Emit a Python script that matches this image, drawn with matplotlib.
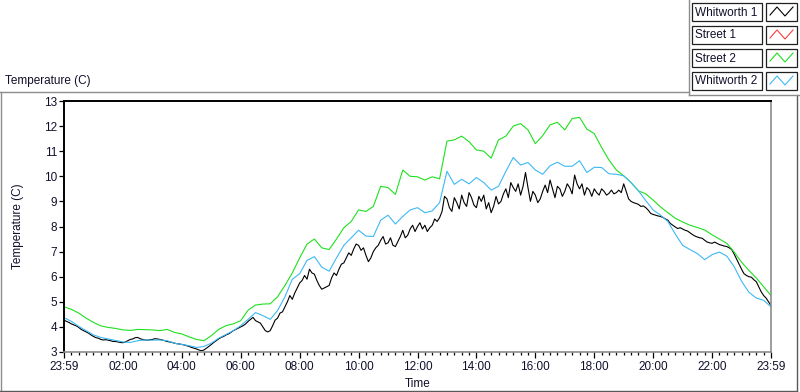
"""Whitworth / Street temperature log, one day from 23:59 to 23:59 (LabVIEW-style chart)."""

import matplotlib

matplotlib.use("Agg")
import matplotlib.pyplot as plt  # noqa: E402
import numpy as np  # noqa: E402
from matplotlib.lines import Line2D  # noqa: E402
from matplotlib.patches import Rectangle  # noqa: E402
from matplotlib.ticker import FixedLocator, MultipleLocator  # noqa: E402

W, H = 800, 392

INK = "#10102a"
FRAME = "#8c8c8c"
FRAME_DARK = "#5a5a5a"
BLACK = "#000000"
RED = "#ff3b3b"
GREEN = "#1fe01f"
CYAN = "#3cb9f5"

# x axis: hours after 23:59
TICK_HOURS = [0, 2, 4, 6, 8, 10, 12, 14, 16, 18, 20, 22, 24]
TICK_LABELS = ["23:59", "02:00", "04:00", "06:00", "08:00", "10:00", "12:00",
               "14:00", "16:00", "18:00", "20:00", "22:00", "23:59"]
Y_TICKS = [3, 4, 5, 6, 7, 8, 9, 10, 11, 12, 13]

# Whitworth 1, one sample every 5 minutes (one row = one hour)
WHITWORTH1_STEP_MIN = 5
WHITWORTH1 = [
    4.27, 4.22, 4.18, 4.12, 4.08, 4.04, 3.98, 3.90, 3.85, 3.80, 3.75, 3.68,
    3.62, 3.57, 3.55, 3.50, 3.48, 3.49, 3.47, 3.45, 3.42, 3.42, 3.40, 3.38,
    3.37, 3.40, 3.45, 3.50, 3.52, 3.57, 3.58, 3.53, 3.50, 3.48, 3.47, 3.49,
    3.50, 3.53, 3.52, 3.50, 3.48, 3.45, 3.42, 3.40, 3.38, 3.35, 3.33, 3.32,
    3.30, 3.28, 3.25, 3.22, 3.18, 3.15, 3.12, 3.08, 3.05, 3.08, 3.15, 3.22,
    3.30, 3.38, 3.45, 3.52, 3.58, 3.62, 3.68, 3.72, 3.78, 3.85, 3.90, 3.95,
    4.00, 4.05, 4.12, 4.22, 4.30, 4.38, 4.25, 4.20, 4.15, 4.00, 3.85, 3.80,
    3.85, 4.05, 4.27, 4.35, 4.55, 4.60, 4.80, 5.00, 5.25, 5.10, 5.35, 5.55,
    5.75, 5.85, 6.05, 5.90, 6.30, 6.15, 6.10, 5.85, 5.65, 5.50, 5.55, 5.60,
    5.65, 5.95, 6.15, 6.05, 6.30, 6.50, 6.55, 6.75, 6.95, 6.85, 7.10, 7.30,
    7.25, 7.05, 7.15, 6.85, 6.60, 6.75, 7.00, 7.15, 7.25, 7.45, 7.60, 7.30,
    7.35, 7.55, 7.25, 7.20, 7.40, 7.60, 7.85, 7.55, 7.65, 7.90, 8.05, 7.80,
    8.00, 8.15, 7.90, 8.05, 7.80, 7.95, 8.05, 8.30, 8.20, 8.35, 8.60, 9.20,
    9.10, 8.75, 8.60, 9.15, 8.95, 8.70, 9.25, 8.95, 8.80, 9.35, 9.15, 8.85,
    8.75, 9.20, 9.00, 9.25, 8.70, 8.95, 8.55, 8.80, 9.20, 8.90, 9.00, 9.30,
    9.50, 9.15, 9.75, 9.55, 9.40, 9.70, 9.25, 9.60, 10.15, 9.55, 9.00, 9.40,
    9.25, 8.95, 9.10, 9.40, 9.65, 9.35, 9.85, 9.50, 9.15, 9.60, 9.50, 9.20,
    9.40, 9.70, 9.55, 9.30, 10.05, 9.70, 9.50, 9.70, 9.25, 9.55, 9.45, 9.20,
    9.50, 9.35, 9.25, 9.50, 9.40, 9.25, 9.32, 9.45, 9.30, 9.35, 9.45, 9.35,
    9.70, 9.40, 9.10, 9.00, 8.95, 8.92, 8.88, 8.80, 8.82, 8.75, 8.65, 8.52,
    8.48, 8.45, 8.42, 8.40, 8.36, 8.30, 8.25, 8.12, 8.05, 7.98, 7.92, 7.95,
    7.90, 7.85, 7.82, 7.75, 7.68, 7.62, 7.58, 7.55, 7.53, 7.45, 7.38, 7.35,
    7.33, 7.38, 7.33, 7.28, 7.25, 7.22, 7.20, 7.15, 7.08, 6.90, 6.70, 6.50,
    6.30, 6.12, 6.05, 6.00, 5.98, 5.88, 5.80, 5.60, 5.40, 5.25, 5.15, 5.00,
    4.85,
]

# Street 1: no samples in this window (legend entry only)
STREET1 = []

# Street 2 and Whitworth 2, one sample every 15 minutes
STREET2_STEP_MIN = 15
STREET2 = [
    4.80, 4.70, 4.55, 4.35, 4.18, 4.04, 3.98, 3.94, 3.88, 3.86, 3.90, 3.89,
    3.88, 3.85, 3.90, 3.78, 3.72, 3.60, 3.50, 3.45, 3.65, 3.90, 4.05, 4.12,
    4.25, 4.67, 4.87, 4.91, 4.92, 5.20, 5.65, 6.15, 6.75, 7.30, 7.50, 7.15,
    7.08, 7.50, 7.95, 8.20, 8.66, 8.60, 8.80, 9.60, 9.55, 9.28, 10.25, 10.00,
    9.98, 9.85, 9.98, 9.90, 11.40, 11.45, 11.60, 11.38, 11.05, 11.00, 10.72, 11.45,
    11.60, 12.00, 12.10, 11.85, 11.30, 11.62, 12.05, 12.15, 11.85, 12.30, 12.35, 11.88,
    11.70, 11.15, 10.65, 10.25, 10.02, 9.75, 9.42, 9.30, 9.05, 8.78, 8.55, 8.33,
    8.18, 8.05, 7.96, 7.86, 7.67, 7.50, 7.33, 6.98, 6.58, 6.25, 5.95, 5.60,
    5.25,
]

WHITWORTH2_STEP_MIN = 15
WHITWORTH2 = [
    4.37, 4.22, 4.02, 3.85, 3.68, 3.58, 3.52, 3.46, 3.40, 3.38, 3.45, 3.48,
    3.47, 3.48, 3.45, 3.35, 3.30, 3.25, 3.18, 3.22, 3.35, 3.55, 3.70, 3.85,
    4.05, 4.30, 4.57, 4.45, 4.30, 4.65, 5.20, 5.90, 6.12, 6.65, 6.80, 6.38,
    6.22, 6.75, 7.25, 7.55, 7.85, 7.62, 7.60, 8.25, 8.45, 8.10, 8.40, 8.66,
    8.75, 8.55, 8.62, 8.95, 10.20, 9.68, 9.88, 9.70, 9.95, 9.75, 9.45, 9.60,
    10.20, 10.75, 10.45, 10.55, 10.25, 10.08, 10.42, 10.56, 10.40, 10.40, 10.62, 10.15,
    10.36, 10.35, 10.10, 10.08, 10.02, 9.75, 9.42, 9.03, 8.66, 8.45, 8.20, 7.70,
    7.25, 7.08, 6.92, 6.68, 6.88, 6.98, 6.82, 6.40, 5.82, 5.38, 5.15, 5.06,
    4.80,
]

LEGEND_NAMES = ["Whitworth 1", "Street 1", "Street 2", "Whitworth 2"]
LEGEND_COLORS = [BLACK, RED, GREEN, CYAN]

plt.rcParams["font.family"] = ["Liberation Sans", "DejaVu Sans"]
plt.rcParams["font.size"] = 8.5


def fx(px):
    return px / W


def fy(py):
    return 1 - py / H


def hours(values, step_min):
    return np.arange(len(values)) * step_min / 60.0


fig = plt.figure(figsize=(W / 100, H / 100), dpi=100)
fig.patch.set_facecolor("white")

# outer panel frame
fig.add_artist(Line2D([fx(0.5), fx(0.5)], [fy(92), fy(391)], color=FRAME, lw=1))
fig.add_artist(Line2D([fx(0), fx(689)], [fy(92), fy(92)], color=FRAME, lw=1))
fig.add_artist(Line2D([fx(797), fx(797)], [fy(95), fy(391)], color=FRAME_DARK, lw=1))
fig.add_artist(Line2D([fx(0), fx(797)], [fy(391), fy(391)], color=FRAME_DARK, lw=1))

# legend panel
fig.add_artist(Line2D([fx(689), fx(689)], [fy(0), fy(95)], color=FRAME, lw=1))
fig.add_artist(Line2D([fx(689), fx(800)], [fy(95), fy(95)], color=FRAME, lw=1))
for i, (name, col) in enumerate(zip(LEGEND_NAMES, LEGEND_COLORS)):
    top = 3 + 23 * i
    fig.add_artist(Rectangle((fx(692), fy(top + 18)), (762 - 692) / W, 18 / H,
                             fill=False, edgecolor="#202020", lw=0.9))
    fig.add_artist(Rectangle((fx(766), fy(top + 18)), (797 - 766) / W, 18 / H,
                             fill=False, edgecolor="#202020", lw=0.9))
    fig.text(fx(695), fy(top + 9.5), name, ha="left", va="center", color=INK, fontsize=8.5)
    zx = [770, 777, 785, 793]
    zy = [top + 12, top + 4, top + 13, top + 4]
    fig.add_artist(Line2D([fx(v) for v in zx], [fy(v) for v in zy], color=col, lw=0.8))

fig.text(fx(5), fy(81), "Temperature (C)", ha="left", va="center", color=INK, fontsize=8.5)
fig.text(fx(18), fy(226), "Temperature (C)", rotation=90, ha="center", va="center",
         color=INK, fontsize=8.5)
fig.text(fx(418), fy(384), "Time", ha="center", va="center", color=INK, fontsize=8.5)

ax = fig.add_axes([fx(64), fy(352), (771 - 64) / W, (352 - 101) / H])
ax.set_facecolor("white")

ax.plot(hours(WHITWORTH1, WHITWORTH1_STEP_MIN), WHITWORTH1, color=BLACK, lw=0.8)
if STREET1:
    ax.plot(hours(STREET1, 15), STREET1, color=RED, lw=0.8)
ax.plot(hours(STREET2, STREET2_STEP_MIN), STREET2, color=GREEN, lw=0.8)
ax.plot(hours(WHITWORTH2, WHITWORTH2_STEP_MIN), WHITWORTH2, color=CYAN, lw=0.8)

ax.set_xlim(0, 24)
ax.set_ylim(3, 13)
ax.xaxis.set_major_locator(FixedLocator(TICK_HOURS))
ax.set_xticklabels(TICK_LABELS)
ax.xaxis.set_minor_locator(MultipleLocator(0.25))
ax.set_yticks(Y_TICKS)
ax.set_yticklabels([str(v) for v in Y_TICKS])

ax.spines["top"].set_color(BLACK)
ax.spines["left"].set_color(BLACK)
ax.spines["top"].set_linewidth(1.4)
ax.spines["left"].set_linewidth(1.4)
ax.spines["right"].set_color(FRAME)
ax.spines["bottom"].set_color(FRAME)
ax.spines["right"].set_linewidth(1.2)
ax.spines["bottom"].set_linewidth(1.2)

ax.tick_params(axis="y", direction="out", length=3.5, width=0.9, color=BLACK,
               labelcolor=INK, labelsize=8.5, pad=1.5)
ax.tick_params(axis="x", which="major", direction="out", length=4.5, width=0.9,
               color=BLACK, labelcolor=INK, labelsize=8.5, pad=2)
ax.tick_params(axis="x", which="minor", direction="out", length=2.5, width=0.9,
               color=BLACK)

fig.savefig("out.png", dpi=100, facecolor="white")
